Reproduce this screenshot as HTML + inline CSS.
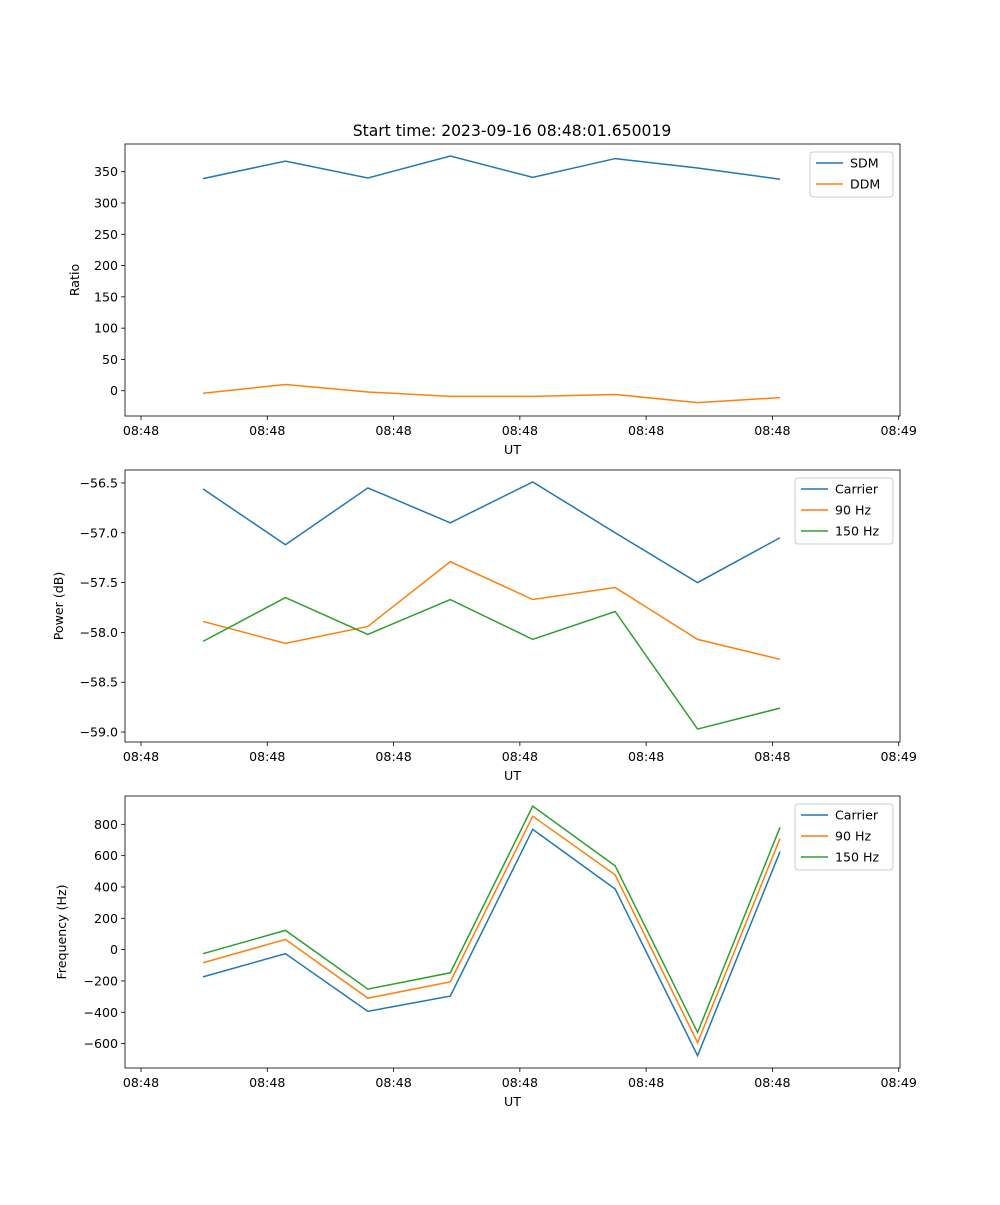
<!DOCTYPE html>
<html><head><meta charset="utf-8"><style>
body{margin:0;background:#fff}
svg text{font-family:"DejaVu Sans","Liberation Sans",sans-serif;fill:#000}
</style></head><body>
<svg id="fig" width="1000" height="1200" xmlns="http://www.w3.org/2000/svg"></svg>
<script>
const xIndex=[0,1,2,3,4,5,6,7];
const xTickLabels=["08:48","08:48","08:48","08:48","08:48","08:48","08:49"];
const sdm=[339,367,340,375,341,371,356,338];
const ddm=[-4,10,-2,-9,-9,-6,-19,-11];
const pCarrier=[-56.56,-57.12,-56.55,-56.90,-56.49,-57.00,-57.50,-57.05];
const p90=[-57.89,-58.11,-57.94,-57.29,-57.67,-57.55,-58.07,-58.27];
const p150=[-58.09,-57.65,-58.02,-57.67,-58.07,-57.79,-58.97,-58.76];
const fCarrier=[-174,-26,-394,-297,768,387,-677,626];
const f90=[-84,65,-310,-206,852,477,-594,710];
const f150=[-26,123,-252,-148,916,535,-529,781];
const ratioTicks=[0,50,100,150,200,250,300,350];
const powerTicks=[-59.0,-58.5,-58.0,-57.5,-57.0,-56.5];
const freqTicks=[-600,-400,-200,0,200,400,600,800];

const NS="http://www.w3.org/2000/svg";
const svg=document.getElementById('fig');
function el(t,a,p){const e=document.createElementNS(NS,t);for(const k in a)e.setAttribute(k,a[k]);(p||svg).appendChild(e);return e;}
const L=125,R=900;
const FS=12.6;
const sx=i=>203+i*82.43;
const xTickPos=[-0.752,0.78,2.312,3.844,5.376,6.908,8.44];
const C=['#1f77b4','#ff7f0e','#2ca02c'];

function panel(name,top,bot,ymin,ymax,ticks,fmt,series,labels,ylabel,legW,legX){
  const g=el('g',{});
  
  
  const sy=v=>bot-(v-ymin)/(ymax-ymin)*(bot-top);
  ticks.forEach(t=>{const y=sy(t);
    el('line',{x1:L-4,x2:L,y1:y,y2:y,stroke:'#000','stroke-width':0.8},g);
    const tx=el('text',{x:L-7,y:y+4.5,'text-anchor':'end','font-size':FS},g);tx.textContent=fmt(t);
    });
  xTickPos.forEach((p,i)=>{const x=sx(p);
    el('line',{x1:x,x2:x,y1:bot,y2:bot+4,stroke:'#000','stroke-width':0.8},g);
    const tx=el('text',{x:x,y:bot+19,'text-anchor':'middle','font-size':FS},g);tx.textContent=xTickLabels[i];
    });
  series.forEach((s,k)=>{const pl=el('polyline',{points:s.map((v,i)=>sx(xIndex[i])+','+sy(v)).join(' '),fill:'none',stroke:C[k],'stroke-width':1.5},g);
    });
  el('rect',{x:L,y:top,width:R-L,height:bot-top,fill:'none',stroke:'#000','stroke-width':0.8},g);
  const xl=el('text',{x:(L+R)/2,y:bot+38,'text-anchor':'middle','font-size':FS},g);xl.textContent='UT';
  
  const yl=el('text',{x:0,y:0,'text-anchor':'middle','font-size':FS,transform:`translate(${legX.yx},${(top+bot)/2}) rotate(-90)`},g);yl.textContent=ylabel;
  
  const lx=legX.x, ly=top+8, lh=21*labels.length+3;
  const lg=el('g',{},g);
  el('rect',{x:lx,y:ly,width:legW,height:lh,rx:3,fill:'#fff','fill-opacity':0.8,stroke:'#ccc'},lg);
  labels.forEach((lab,k)=>{const y=ly+11+k*21;
    el('line',{x1:lx+6,x2:lx+33,y1:y,y2:y,stroke:C[k],'stroke-width':1.5},lg);
    const t=el('text',{x:lx+40,y:y+4.5,'font-size':FS},lg);t.textContent=lab;
    });
}
const title=el('text',{x:512,y:136,'text-anchor':'middle','font-size':15.6});title.textContent='Start time: 2023-09-16 08:48:01.650019';

panel('ratio-panel',144,416,-40.4,394.3,ratioTicks,v=>v<0?'−'+(-v):String(v),[sdm,ddm],['SDM','DDM'],'Ratio',83,{x:810,yx:79});
panel('power-panel',470,742,-59.1,-56.37,powerTicks,v=>(v<0?'−':'')+Math.abs(v).toFixed(1),[pCarrier,p90,p150],['Carrier','90 Hz','150 Hz'],'Power (dB)',98,{x:795,yx:63});
panel('frequency-panel',796,1068,-756,981,freqTicks,v=>v<0?'−'+(-v):String(v),[fCarrier,f90,f150],['Carrier','90 Hz','150 Hz'],'Frequency (Hz)',98,{x:795,yx:66});
</script>
</body></html>
